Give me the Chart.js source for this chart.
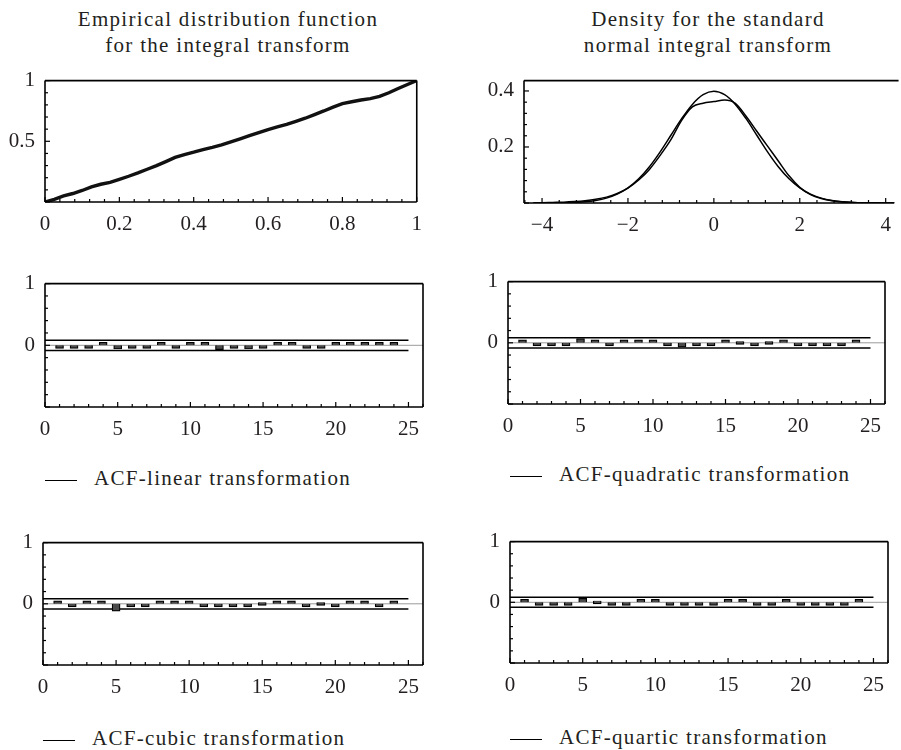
<!DOCTYPE html>
<html lang="en">
<head>
    <meta charset="UTF-8">
    <title>Integral transform diagnostics</title>
    <script src="https://cdn.jsdelivr.net/npm/chart.js"></script>
    <style>
        body {
            margin: 0;
            background: #fff;
            width: 901px;
            height: 750px;
            position: relative;
            overflow: hidden;
            font-family: "Liberation Serif", "DejaVu Serif", serif;
            color: #231f20;
        }
        canvas { position: absolute; }
        .title {
            position: absolute;
            width: 460px;
            text-align: center;
            font-size: 21px;
            letter-spacing: 1.3px;
            line-height: 26px;
        }
        .legend {
            position: absolute;
            font-size: 21px;
            letter-spacing: 1.3px;
            line-height: 24px;
            white-space: nowrap;
        }
        .legend span {
            display: inline-block;
            width: 32px;
            border-top: 1.5px solid #000;
            vertical-align: middle;
            margin-right: 17px;
        }
    </style>
</head>
<body>
    <div class="title" style="left:-2px; top:6px;">Empirical distribution function<br>for the integral transform</div>
    <div class="title" style="left:478px; top:6px;">Density for the standard<br>normal integral transform</div>

    <canvas id="edfChart"></canvas>
    <canvas id="densChart"></canvas>
    <canvas id="acfLinearChart"></canvas>
    <canvas id="acfQuadChart"></canvas>
    <canvas id="acfCubicChart"></canvas>
    <canvas id="acfQuartChart"></canvas>

    <div class="legend" style="left:45px; top:466px;"><span></span>ACF-linear transformation</div>
    <div class="legend" style="left:510px; top:462px;"><span></span>ACF-quadratic transformation</div>
    <div class="legend" style="left:43px; top:726px;"><span></span>ACF-cubic transformation</div>
    <div class="legend" style="left:510px; top:725px;"><span></span>ACF-quartic transformation</div>

    <script>
        // Empirical distribution function of the integral transform
        const edfX = [0, 0.025, 0.05, 0.075, 0.1, 0.125, 0.15, 0.175, 0.2, 0.225, 0.25, 0.275, 0.3, 0.325, 0.35,
                      0.375, 0.4, 0.425, 0.45, 0.475, 0.5, 0.525, 0.55, 0.575, 0.6, 0.625, 0.65, 0.675, 0.7,
                      0.725, 0.75, 0.775, 0.8, 0.825, 0.85, 0.875, 0.9, 0.925, 0.95, 0.975, 1];
        const edfY = [0, 0.022, 0.05, 0.07, 0.095, 0.125, 0.146, 0.162, 0.187, 0.212, 0.24, 0.27, 0.30, 0.333, 0.367,
                      0.39, 0.41, 0.432, 0.45, 0.47, 0.495, 0.52, 0.546, 0.572, 0.597, 0.618, 0.64, 0.665, 0.69,
                      0.72, 0.75, 0.782, 0.81, 0.826, 0.84, 0.852, 0.87, 0.9, 0.935, 0.968, 1];

        // Density: standard normal vs. kernel estimate of the transform
        const densX = [-4.2, -4, -3.75, -3.5, -3.25, -3, -2.75, -2.5, -2.25, -2, -1.75, -1.5,
                       -1.25, -1, -0.75, -0.5, -0.25, 0, 0.25, 0.5, 0.75, 1, 1.25, 1.5,
                       1.75, 2, 2.25, 2.5, 2.75, 3, 3.25, 3.5, 3.75, 4, 4.2];
        const normalDens = [0.0001, 0.0001, 0.0004, 0.0009, 0.002, 0.0044, 0.0091, 0.0175, 0.0317, 0.054, 0.0863, 0.1295,
                            0.1826, 0.242, 0.3011, 0.3521, 0.3867, 0.3989, 0.3867, 0.3521, 0.3011, 0.242, 0.1826, 0.1295,
                            0.0863, 0.054, 0.0317, 0.0175, 0.0091, 0.0044, 0.002, 0.0009, 0.0004, 0.0001, 0.0001];
        const kernelDens = [0, 0.001, 0.002, 0.003, 0.005, 0.008, 0.013, 0.021, 0.034, 0.053, 0.082, 0.12,
                            0.17, 0.226, 0.295, 0.343, 0.356, 0.362, 0.368, 0.356, 0.31, 0.256, 0.203, 0.15,
                            0.097, 0.056, 0.03, 0.016, 0.008, 0.004, 0.002, 0.001, 0.0005, 0.0002, 0.0001];

        // Autocorrelations by lag
        const lags = [1, 2, 3, 4, 5, 6, 7, 8, 9, 10, 11, 12, 13, 14, 15, 16, 17, 18, 19, 20, 21, 22, 23, 24];
        const acfLinear = [-0.02, -0.025, -0.01, 0.03, -0.06, -0.05, -0.005, 0.03, -0.01, 0.03, 0.04, -0.07,
                           -0.005, -0.06, -0.04, 0.005, 0.01, -0.005, -0.015, 0.025, 0.01, 0.01, 0.01, 0.03];
        const acfQuadratic = [0.035, -0.05, -0.01, -0.05, 0.07, 0.015, -0.05, 0.01, 0.035, 0.035, -0.035, -0.07,
                              -0.035, -0.03, 0.01, 0, -0.03, 0, 0.05, -0.01, -0.03, -0.005, -0.005, 0.03];
        const acfCubic = [0.015, -0.01, 0.03, 0.005, -0.12, -0.045, -0.005, 0.01, 0.015, 0.035, -0.005, -0.03,
                          -0.025, -0.03, 0, 0.01, 0.02, -0.005, 0, -0.01, 0.015, 0.01, -0.015, 0.035];
        const acfQuartic = [0.01, -0.03, -0.005, -0.04, 0.065, 0, -0.04, -0.01, 0.01, 0.02, -0.025, -0.04,
                            -0.015, -0.035, 0.005, 0.005, -0.005, -0.005, 0.01, -0.01, -0.01, -0.005, -0.005, 0.02];
        const acfBand = 0.083;

        const INK = '#231f20';
        const TICK_FONT = { family: 'Liberation Serif', size: 21 };
        const AXIS_W = 45, AXIS_H = 40, PAD_T = 14;

        // inward Mathematica-style ticks plus the frame
        const innerTicks = {
            id: 'innerTicks',
            afterDraw(chart, args, opts) {
                const ctx = chart.ctx;
                const a = chart.chartArea;
                const xs = chart.scales.x, ys = chart.scales.y;
                ctx.save();
                ctx.strokeStyle = '#000';
                ctx.lineWidth = 1.2;
                const marks = (scale, minor, major, draw) => {
                    const start = Math.ceil(scale.min / minor - 1e-6);
                    for (let i = start; i * minor <= scale.max + 1e-9; i++) {
                        const v = i * minor;
                        const r = v / major;
                        const isMajor = Math.abs(r - Math.round(r)) < 1e-6;
                        draw(scale.getPixelForValue(v), isMajor ? 5 : 3);
                    }
                };
                marks(xs, opts.xMinor, opts.xMajor, (px, len) => {
                    ctx.beginPath(); ctx.moveTo(px, a.bottom); ctx.lineTo(px, a.bottom - len); ctx.stroke();
                });
                marks(ys, opts.yMinor, opts.yMajor, (py, len) => {
                    ctx.beginPath(); ctx.moveTo(a.left, py); ctx.lineTo(a.left + len, py); ctx.stroke();
                });
                ctx.lineWidth = 1.6;
                ctx.beginPath();
                ctx.moveTo(a.left, a.top); ctx.lineTo(a.left, a.bottom);
                ctx.moveTo(a.left, a.bottom); ctx.lineTo(opts.bottomEnd ? xs.getPixelForValue(opts.bottomEnd) : a.right, a.bottom);
                ctx.moveTo(a.left, a.top); ctx.lineTo(a.right, a.top);
                if (!opts.noRight) { ctx.moveTo(a.right, a.top); ctx.lineTo(a.right, a.bottom); }
                ctx.stroke();
                ctx.restore();
            }
        };

        function place(id, left, top, right, bottom, padR) {
            const c = document.getElementById(id);
            c.width = right - left + AXIS_W + padR;
            c.height = bottom - top + PAD_T + AXIS_H;
            c.style.left = (left - AXIS_W) + 'px';
            c.style.top = (top - PAD_T) + 'px';
            return c;
        }

        const minusSign = v => String(v).replace('-', '\u2212');

        function axes(xMin, xMax, xStep, yMin, yMax, yStep, hideY) {
            return {
                x: {
                    type: 'linear', min: xMin, max: xMax, offset: false,
                    afterFit: s => { s.height = AXIS_H; },
                    grid: { display: false, drawTicks: false, offset: false },
                    border: { display: false },
                    ticks: { stepSize: xStep, includeBounds: false, autoSkip: false, maxRotation: 0,
                             padding: 10, color: INK, font: TICK_FONT,
                             callback: v => minusSign(v) }
                },
                y: {
                    type: 'linear', min: yMin, max: yMax,
                    afterFit: s => { s.width = AXIS_W; },
                    grid: { display: false, drawTicks: false },
                    border: { display: false },
                    ticks: { stepSize: yStep, includeBounds: false, autoSkip: false,
                             padding: 10, color: INK, font: TICK_FONT,
                             callback: v => (Math.abs(v - hideY) < 1e-9 ? '' : minusSign(v)) }
                }
            };
        }

        const baseOptions = (scales, tickOpts, padR) => ({
            responsive: false,
            animation: false,
            events: [],
            layout: { padding: { left: 0, top: PAD_T, right: padR, bottom: 0 } },
            scales: scales,
            plugins: { legend: { display: false }, tooltip: { enabled: false }, innerTicks: tickOpts }
        });

        // Empirical distribution function
        new Chart(place('edfChart', 45, 72, 418, 202, 14), {
            type: 'line',
            data: {
                datasets: [{
                    data: edfX.map((x, i) => ({ x: x, y: edfY[i] })),
                    borderColor: '#111', borderWidth: 3.4, pointRadius: 0, tension: 0
                }]
            },
            options: baseOptions(axes(0, 1, 0.2, 0, 1, 0.5, 0),
                { xMinor: 0.04, xMajor: 0.2, yMinor: 0.1, yMajor: 0.5 }, 14),
            plugins: [innerTicks]
        });

        // Density curves
        new Chart(place('densChart', 524, 72, 899, 203, 2), {
            type: 'line',
            data: {
                datasets: [
                    { data: densX.map((x, i) => ({ x: x, y: normalDens[i] })),
                      borderColor: '#000', borderWidth: 1.5, pointRadius: 0, cubicInterpolationMode: 'monotone' },
                    { data: densX.map((x, i) => ({ x: x, y: kernelDens[i] })),
                      borderColor: '#000', borderWidth: 1.5, pointRadius: 0, cubicInterpolationMode: 'monotone' }
                ]
            },
            options: baseOptions(axes(-4.42, 4.3, 2, 0, 0.437, 0.2, 0),
                { xMinor: 0.4, xMajor: 2, yMinor: 0.04, yMajor: 0.2, noRight: true, bottomEnd: 4.2 }, 2),
            plugins: [innerTicks]
        });

        function acfChart(id, values, rect) {
            const [l, t, r, b] = rect;
            const flat = (y, x1) => [{ x: 0, y: y }, { x: x1, y: y }];
            new Chart(place(id, l, t, r, b, 12), {
                type: 'bar',
                data: {
                    datasets: [
                        { type: 'bar', data: lags.map((x, i) => ({ x: x, y: values[i] })),
                          backgroundColor: '#4a4a4a', borderColor: '#000', borderWidth: 1.2,
                          barThickness: 8, minBarLength: 3, order: 0 },
                        { type: 'line', data: flat(0, 26), borderColor: '#9a9a9a', borderWidth: 1,
                          pointRadius: 0, order: 2 },
                        { type: 'line', data: flat(acfBand, 25), borderColor: '#000', borderWidth: 1.5,
                          pointRadius: 0, order: 1 },
                        { type: 'line', data: flat(-acfBand, 25), borderColor: '#000', borderWidth: 1.5,
                          pointRadius: 0, order: 1 }
                    ]
                },
                options: baseOptions(axes(0, 26, 5, -1, 1, 1, -1),
                    { xMinor: 1, xMajor: 5, yMinor: 0.2, yMajor: 1 }, 12),
                plugins: [innerTicks]
            });
        }

        acfChart('acfLinearChart', acfLinear, [45, 275, 423, 407]);
        acfChart('acfQuadChart', acfQuadratic, [508, 273, 885, 404]);
        acfChart('acfCubicChart', acfCubic, [43, 534, 423, 665]);
        acfChart('acfQuartChart', acfQuartic, [510, 533, 888, 663]);
    </script>
</body>
</html>
